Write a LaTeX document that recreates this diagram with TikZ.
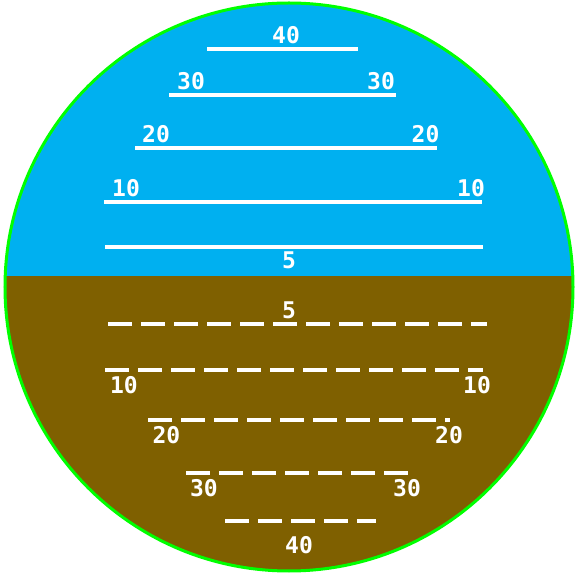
\documentclass[tikz,border=0pt]{standalone}
\usepackage{fontspec}
\setmonofont{DejaVu Sans Mono}
\definecolor{skyblue}{RGB}{0,176,240}
\definecolor{earthbrown}{RGB}{127,96,0}
\definecolor{rimgreen}{RGB}{0,255,0}

\begin{document}
\begin{tikzpicture}[
    x=0.5pt, y=-0.5pt,
    skyline/.style={draw=white, line width=2pt},
    groundline/.style={draw=white, line width=2pt, dash pattern=on 12pt off 4.5pt},
    pitch/.style={text=white, inner sep=0pt, font=\ttfamily\bfseries\fontsize{11.5}{12}\selectfont}
]
\useasboundingbox (0,0) rectangle (579,577);

% sky and ground inside the dial
\begin{scope}
  \clip (289,287) circle [radius=142pt];
  \fill[skyblue] (0,0) rectangle (579,276.5);
  \fill[earthbrown] (0,276.5) rectangle (579,577);
\end{scope}
\draw[rimgreen, line width=1.5pt] (289,287) circle [radius=142pt];

% nose up
\draw[skyline] (207,49) -- (358,49);
\draw[skyline] (169,95) -- (396,95);
\draw[skyline] (135,148) -- (437,148);
\draw[skyline] (104,202) -- (482,202);
\draw[skyline] (105,247) -- (483,247);

\node[pitch] (up40) at (286,35.5) {40};
\node[pitch] (up30l) at (191,81.5) {30};
\node[pitch] (up30r) at (381,81.5) {30};
\node[pitch] (up20l) at (156,134.5) {20};
\node[pitch] (up20r) at (425.5,134.5) {20};
\node[pitch] (up10l) at (126,188) {10};
\node[pitch] (up10r) at (471,188) {10};
\node[pitch] (up5) at (289,260) {5};

% nose down
\draw[groundline] (108,324) -- (487,324);
\draw[groundline] (105,370) -- (483,370);
\draw[groundline] (148,420) -- (450,420);
\draw[groundline] (186,473) -- (408,473);
\draw[groundline] (225,521.5) -- (376,521.5);

\node[pitch] (dn5) at (289,310.5) {5};
\node[pitch] (dn10l) at (124,385) {10};
\node[pitch] (dn10r) at (477,385) {10};
\node[pitch] (dn20l) at (166.5,435) {20};
\node[pitch] (dn20r) at (449,435) {20};
\node[pitch] (dn30l) at (204,488.5) {30};
\node[pitch] (dn30r) at (407,488.5) {30};
\node[pitch] (dn40) at (299,545) {40};

\end{tikzpicture}
\end{document}
